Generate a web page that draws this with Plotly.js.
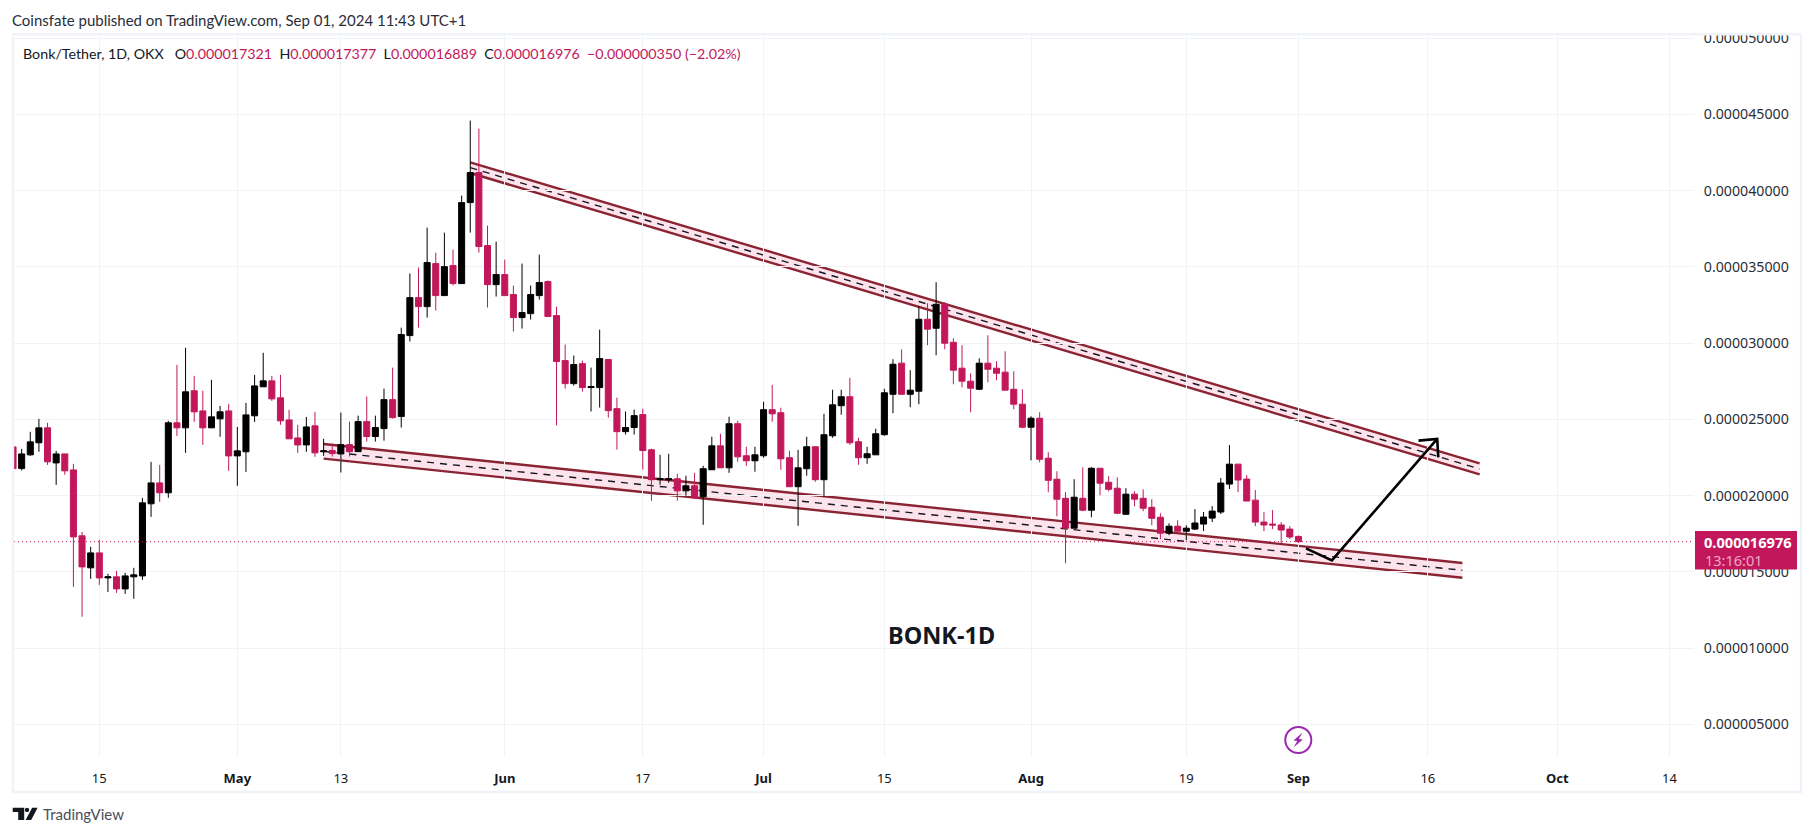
<!DOCTYPE html>
<html>
<head>
<meta charset="utf-8">
<script src="https://cdn.plot.ly/plotly-3.0.1.min.js"></script>
<style>html,body{margin:0;padding:0;background:#fff;overflow:hidden}#chart{width:1814px;height:836px}</style>
</head>
<body>
<div id="chart"></div>
<script>
// Prices are in millionths of a USDT
const dates = [
 '2024-04-05','2024-04-06','2024-04-07','2024-04-08','2024-04-09','2024-04-10','2024-04-11','2024-04-12','2024-04-13','2024-04-14','2024-04-15','2024-04-16','2024-04-17','2024-04-18','2024-04-19','2024-04-20','2024-04-21','2024-04-22','2024-04-23','2024-04-24','2024-04-25','2024-04-26','2024-04-27','2024-04-28','2024-04-29','2024-04-30',
 '2024-05-01','2024-05-02','2024-05-03','2024-05-04','2024-05-05','2024-05-06','2024-05-07','2024-05-08','2024-05-09','2024-05-10','2024-05-11','2024-05-12','2024-05-13','2024-05-14','2024-05-15','2024-05-16','2024-05-17','2024-05-18','2024-05-19','2024-05-20','2024-05-21','2024-05-22','2024-05-23','2024-05-24','2024-05-25','2024-05-26','2024-05-27','2024-05-28','2024-05-29','2024-05-30','2024-05-31',
 '2024-06-01','2024-06-02','2024-06-03','2024-06-04','2024-06-05','2024-06-06','2024-06-07','2024-06-08','2024-06-09','2024-06-10','2024-06-11','2024-06-12','2024-06-13','2024-06-14','2024-06-15','2024-06-16','2024-06-17','2024-06-18','2024-06-19','2024-06-20','2024-06-21','2024-06-22','2024-06-23','2024-06-24','2024-06-25','2024-06-26','2024-06-27','2024-06-28','2024-06-29','2024-06-30',
 '2024-07-01','2024-07-02','2024-07-03','2024-07-04','2024-07-05','2024-07-06','2024-07-07','2024-07-08','2024-07-09','2024-07-10','2024-07-11','2024-07-12','2024-07-13','2024-07-14','2024-07-15','2024-07-16','2024-07-17','2024-07-18','2024-07-19','2024-07-20','2024-07-21','2024-07-22','2024-07-23','2024-07-24','2024-07-25','2024-07-26','2024-07-27','2024-07-28','2024-07-29','2024-07-30','2024-07-31',
 '2024-08-01','2024-08-02','2024-08-03','2024-08-04','2024-08-05','2024-08-06','2024-08-07','2024-08-08','2024-08-09','2024-08-10','2024-08-11','2024-08-12','2024-08-13','2024-08-14','2024-08-15','2024-08-16','2024-08-17','2024-08-18','2024-08-19','2024-08-20','2024-08-21','2024-08-22','2024-08-23','2024-08-24','2024-08-25','2024-08-26','2024-08-27','2024-08-28','2024-08-29','2024-08-30','2024-08-31',
 '2024-09-01'];
const opens = [
 23.19,21.77,22.67,23.46,24.44,22.14,22.73,21.68,17.36,15.26,16.24,14.60,14.67,13.88,14.67,14.73,19.46,20.83,20.18,24.77,24.44,26.87,25.55,24.44,25.03,25.55,
 22.60,22.87,25.23,27.13,27.52,26.41,24.96,23.78,23.32,24.57,22.87,22.95,22.73,23.34,22.88,24.85,23.87,24.39,26.29,25.18,30.49,32.98,32.39,35.21,33.11,35.08,33.90,39.21,41.18,36.39,33.83,
 34.49,33.18,31.67,31.93,33.11,34.03,31.80,28.85,27.34,28.65,27.08,27.08,28.92,25.70,24.19,24.46,25.31,23.00,21.04,21.04,21.10,20.31,20.64,19.92,21.69,23.26,21.82,24.71,22.61,22.28,
 22.61,25.63,25.43,22.48,20.58,21.76,23.20,21.04,23.92,25.89,26.48,23.53,22.48,22.67,23.99,26.64,28.68,26.64,26.84,31.56,30.97,32.54,30.05,28.35,27.50,26.97,28.68,28.35,28.09,26.97,25.99,
 24.48,25.07,22.45,21.07,19.82,17.86,19.82,19.04,21.79,20.87,20.48,18.77,20.09,19.82,19.23,18.58,17.53,17.99,17.66,17.80,18.13,18.52,18.92,20.75,22.06,21.08,19.70,18.26,18.13,18.07,17.80,
 17.321];
const highs = [
 23.19,23.06,24.18,25.03,24.77,22.93,22.73,22.08,17.62,16.64,17.09,14.87,15.06,14.93,15.26,19.85,22.21,22.01,24.90,28.57,29.69,27.85,26.87,27.59,25.88,26.01,
 24.50,26.08,27.91,29.36,27.85,27.91,25.62,24.64,25.16,25.49,23.72,23.41,25.44,24.85,25.24,26.49,25.24,27.01,28.39,31.01,34.56,34.95,37.57,35.93,37.24,36.13,39.67,44.59,44.06,37.70,36.65,
 35.47,33.77,35.21,33.77,35.80,34.10,32.39,29.90,29.18,28.85,28.39,30.88,28.92,26.42,25.51,25.64,25.70,23.07,22.67,22.74,21.43,21.30,21.49,21.95,23.86,24.05,25.17,24.90,23.20,23.20,
 26.15,27.26,25.76,22.94,23.00,23.86,23.20,25.36,26.94,26.94,27.72,23.79,23.20,24.38,27.00,28.94,29.59,28.22,32.41,32.61,33.99,32.68,30.31,29.86,28.02,29.00,30.51,28.81,29.46,28.15,26.97,
 25.20,25.46,22.84,21.59,20.22,21.07,21.86,21.86,21.79,21.27,21.20,20.48,20.28,20.41,19.76,18.84,18.18,18.38,18.05,19.11,18.92,19.31,21.15,23.31,22.06,21.34,20.36,18.92,19.05,18.26,18.00,
 17.377];
const lows = [
 21.23,21.64,22.60,22.87,22.01,20.70,21.36,14.01,12.05,14.54,14.14,13.68,13.62,13.55,13.23,14.47,18.60,19.59,19.85,23.91,22.80,24.83,23.32,24.44,23.85,21.62,
 20.64,21.55,24.83,27.13,26.21,24.64,23.72,22.80,22.87,22.54,22.60,22.56,21.51,22.56,22.88,23.54,23.54,23.60,25.05,24.46,30.10,31.01,31.67,32.13,33.11,33.77,33.90,37.24,35.93,32.33,33.05,
 33.11,30.75,30.95,31.54,32.85,31.74,24.59,27.01,27.21,26.82,25.51,25.77,25.11,23.01,24.00,24.00,21.70,19.66,20.71,20.84,19.66,19.99,19.79,18.08,21.69,21.82,21.49,22.22,21.95,21.56,
 22.48,24.84,21.69,20.58,18.02,21.30,20.90,19.92,23.79,25.30,23.33,22.02,22.08,22.67,23.92,25.40,26.64,25.79,25.99,29.86,29.20,29.59,27.30,27.10,25.46,26.91,27.43,27.56,26.91,25.66,24.41,
 22.31,22.18,20.22,18.64,15.56,17.86,18.97,18.58,20.02,20.28,18.77,18.77,19.30,18.97,18.05,17.14,17.40,17.66,17.07,17.74,17.67,18.26,18.79,20.43,20.23,19.64,18.00,17.67,17.80,16.88,17.15,
 16.889];
const closes = [
 21.77,22.73,23.52,24.44,22.21,22.73,21.62,17.29,15.32,16.24,14.60,14.67,13.88,14.73,14.80,19.52,20.83,20.18,24.77,24.44,26.80,25.49,24.44,25.16,25.49,22.60,
 22.93,25.29,27.19,27.52,26.34,24.90,23.72,23.32,24.50,22.80,22.93,22.75,23.34,22.88,24.85,23.87,24.46,26.29,25.11,30.56,32.98,32.39,35.28,33.11,35.01,33.90,39.21,41.18,36.33,33.83,34.49,
 33.11,31.67,32.00,33.18,33.97,31.74,28.79,27.34,28.59,27.08,27.15,28.98,25.57,24.19,24.46,25.24,22.95,21.04,21.10,21.10,20.31,20.64,19.85,21.76,23.26,21.82,24.71,22.54,22.28,22.67,
 25.63,25.36,22.41,20.58,21.82,23.20,21.04,23.99,25.95,26.48,23.46,22.48,22.74,24.05,26.74,28.61,26.64,26.91,31.56,30.91,32.54,29.99,28.22,27.50,27.04,28.68,28.28,28.02,26.91,25.99,24.48,
 25.07,22.38,21.00,19.76,17.86,19.89,19.04,21.79,20.81,20.41,18.84,20.09,19.76,19.17,18.51,17.53,17.99,17.66,17.86,18.20,18.59,18.98,20.82,22.06,21.02,19.64,18.26,18.07,18.07,17.74,17.28,
 16.976];

const lastPrice = 16.976;
const priceTicks = [5,10,15,20,25,30,35,40,45,50];
const priceLabels = ['0.000005000','0.000010000','0.000015000','0.000020000','0.000025000','0.000030000','0.000035000','0.000040000','0.000045000','0.000050000'];
const dateTicks = ['2024-04-15','2024-05-01','2024-05-13','2024-06-01','2024-06-17','2024-07-01','2024-07-15','2024-08-01','2024-08-19','2024-09-01','2024-09-16','2024-10-01','2024-10-14'];
const dateLabels = ['15','<b>May</b>','13','<b>Jun</b>','17','<b>Jul</b>','15','<b>Aug</b>','19','<b>Sep</b>','16','<b>Oct</b>','14'];

// Channel edges: [start date, end date], [value top start, top end], [value bottom start, bottom end]
const upperDates = ['2024-05-28','2024-09-22'];
const upperTop = [41.85,22.11];
const upperMid = [41.50,21.75];
const upperBottom = [41.15,21.39];
const lowerDates = ['2024-05-11','2024-09-20'];
const lowerTop = [23.38,15.58];
const lowerMid = [22.90,15.10];
const lowerBottom = [22.42,14.61];
// Projection arrow
const arrowX = ['2024-09-01 21:00','2024-09-04 21:00','2024-09-17 02:00'];
const arrowY = [16.54,15.75,23.71];
const headX = ['2024-09-14 22:00','2024-09-17 02:00','2024-09-17 05:00'];
const headY = [23.60,23.71,22.50];

const CRIMSON = '#c2185b', INK = '#131722', FRAME = '#f0f3fa', GRID = '#f0f2f5', EDGE = '#8a2433', BAND = '#fde4ec';
const PX_L = 14, PX_T = 35, PX_W = 1680, PX_H = 722;
const fx = p => (p - PX_L) / PX_W, fy = p => (PX_T + PX_H - p) / PX_H;

function channel(xs, top, mid, bot) {
  const out = [];
  out.push({type:'path', layer:'below', xref:'x', yref:'y', fillcolor:BAND, line:{width:0},
    path:`M ${xs[0]},${top[0]} L ${xs[1]},${top[1]} L ${xs[1]},${bot[1]} L ${xs[0]},${bot[0]} Z`});
  [top, bot].forEach(v => out.push({type:'line', layer:'below', xref:'x', yref:'y', x0:xs[0], x1:xs[1], y0:v[0], y1:v[1], line:{color:EDGE, width:2.4}}));
  out.push({type:'line', layer:'below', xref:'x', yref:'y', x0:xs[0], x1:xs[1], y0:mid[0], y1:mid[1], line:{color:INK, width:1.4, dash:'7px,6px'}});
  return out;
}

function pxRect(x0, y0, x1, y1, extra) {
  return Object.assign({type:'rect', layer:'above', xref:'paper', yref:'paper', x0:fx(x0), x1:fx(x1), y0:fy(y0), y1:fy(y1), line:{width:0}}, extra);
}
function pxPath(pts, color) {
  return {type:'path', layer:'above', xref:'paper', yref:'paper', fillcolor:color, line:{width:0},
    path:'M ' + pts.map(p => fx(p[0]) + ',' + fy(p[1])).join(' L ') + ' Z'};
}

const shapes = [
  ...channel(upperDates, upperTop, upperMid, upperBottom),
  ...channel(lowerDates, lowerTop, lowerMid, lowerBottom),
  {type:'line', layer:'above', xref:'paper', yref:'y', x0:0, x1:1, y0:lastPrice, y1:lastPrice, line:{color:CRIMSON, width:1, dash:'1px,3px'}},
  // chrome
  pxRect(1694,0,1814,35, {fillcolor:'#ffffff'}),
  pxRect(0,0,1814,33.5, {fillcolor:'#ffffff'}),
  pxRect(13,34.2,1801,792, {fillcolor:'rgba(0,0,0,0)', line:{color:FRAME, width:2.4}}),
  pxRect(1695,531,1797,569.5, {fillcolor:CRIMSON}),
  // purple flash badge
  {type:'circle', layer:'above', xref:'paper', yref:'paper', x0:fx(1285.3), x1:fx(1311.3), y0:fy(727), y1:fy(753), fillcolor:'#ffffff', line:{color:'#9c27b0', width:2}},
  pxPath([[1302.5,732.5],[1293.5,740.5],[1297.3,741],[1293.5,747.5],[1302.8,739.5],[1298.8,739],[1302.5,732.5]], '#9c27b0'),
  // TradingView logo
  pxPath([[12.7,807.7],[24.2,807.7],[24.2,820],[18.2,820],[18.2,811.9],[12.7,811.9]], INK),
  {type:'circle', layer:'above', xref:'paper', yref:'paper', x0:fx(24.8), x1:fx(29.2), y0:fy(807.7), y1:fy(812.1), fillcolor:INK, line:{width:0}},
  pxPath([[32.2,807.7],[37.6,807.7],[31.2,820],[25.6,820]], INK)
];

function note(text, x, y, size, family, color, anchor) {
  return {text, xref:'paper', yref:'paper', x:fx(x), y:fy(y), xanchor:anchor||'left', yanchor:'middle', showarrow:false,
    font:{family, size, color}, align:anchor||'left', borderpad:0, borderwidth:0};
}
const v = s => `<span style="color:${CRIMSON}">${s}</span>`;
const NB = '\u00A0';
const legendText = `Bonk/Tether, 1D, OKX${NB}${NB}${NB}O${v('0.000017321')}${NB}${NB}H${v('0.000017377')}${NB}${NB}L${v('0.000016889')}${NB}${NB}C${v('0.000016976')}${NB}${NB}${v('\u22120.000000350 (\u22122.02%)')}`;

const annotations = [
  note('Coinsfate published on TradingView.com, Sep 01, 2024 11:43 UTC+1', 12, 20, 15, 'Lato', '#2a2e39'),
  note(legendText, 23, 53.5, 14.25, 'Lato', INK),
  note('<b>BONK-1D</b>', 941, 635, 23.5, 'Noto Sans', INK, 'center'),
  note('<b>0.000016976</b>', 1704, 541.5, 14.6, 'Noto Sans', '#ffffff'),
  note('13:16:01', 1705, 560, 14.5, 'Noto Sans', '#eaa9c6'),
  note('TradingView', 43, 814, 15, 'Lato', '#4a4e59')
];

const traces = [
  {type:'candlestick', x:dates, open:opens, high:highs, low:lows, close:closes,
   whiskerwidth:0,
   increasing:{line:{color:'#000000', width:1}, fillcolor:'#000000'},
   decreasing:{line:{color:CRIMSON, width:1}, fillcolor:CRIMSON},
   hoverinfo:'skip', showlegend:false},
  {type:'scatter', mode:'lines', x:arrowX, y:arrowY, line:{color:'#000000', width:2.6}, hoverinfo:'skip', showlegend:false},
  {type:'scatter', mode:'lines', x:headX, y:headY, line:{color:'#000000', width:2.6}, hoverinfo:'skip', showlegend:false}
];

const layout = {
  width:1814, height:836, showlegend:false, dragmode:false,
  paper_bgcolor:'#ffffff', plot_bgcolor:'#ffffff',
  margin:{l:PX_L, r:1814-PX_L-PX_W, t:PX_T, b:836-PX_T-PX_H, pad:0},
  font:{family:'Noto Sans', color:'#2a2e39'},
  boxmode:'overlay', boxgap:0.3, boxgroupgap:0,
  xaxis:{type:'date', range:['2024-04-05 02:42','2024-10-16 20:24'], rangeslider:{visible:false},
    tickmode:'array', tickvals:dateTicks, ticktext:dateLabels, showgrid:true, gridcolor:GRID, gridwidth:1,
    zeroline:false, showline:false, ticks:'outside', ticklen:9, tickcolor:'rgba(0,0,0,0)',
    tickfont:{family:'Noto Sans', size:13, color:INK}, tickangle:0},
  yaxis:{side:'right', range:[2.856,50.2], tickmode:'array', tickvals:priceTicks, ticktext:priceLabels,
    showgrid:true, gridcolor:GRID, gridwidth:1, zeroline:false, showline:false, ticks:'outside', ticklen:6, tickcolor:'rgba(0,0,0,0)',
    tickfont:{family:'Noto Sans', size:14.2, color:'#2a2e39'}},
  shapes, annotations
};

Plotly.newPlot('chart', traces, layout, {displayModeBar:false, staticPlot:true, responsive:false});
</script>
</body>
</html>
